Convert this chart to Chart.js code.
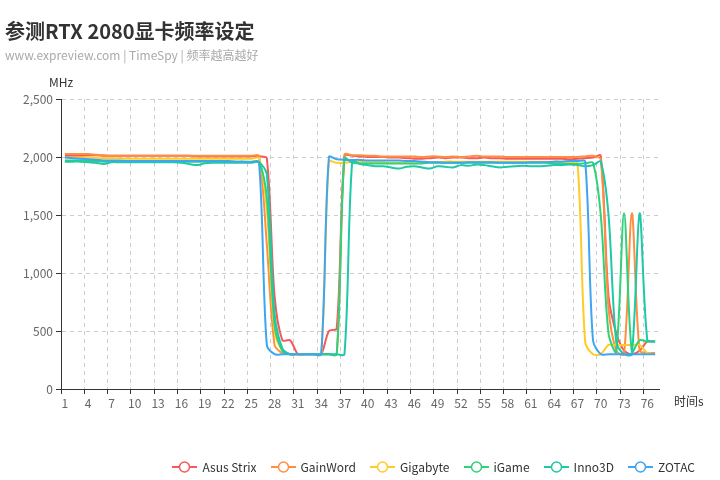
<!DOCTYPE html>
<html>
<head>
<meta charset="utf-8">
<script src="https://cdn.jsdelivr.net/npm/chart.js@4.4.1/dist/chart.umd.min.js"></script>
<style>
html, body { margin: 0; padding: 0; background: #fff; }
#wrap { position: relative; width: 720px; height: 480px; font-family: "Noto Sans CJK SC", "Noto Sans", sans-serif; }
#c { position: absolute; left: 0; top: 0; }
.title { position: absolute; left: 5px; top: 16px; font-size: 20px; font-weight: bold; color: #333; line-height: 30px; white-space: nowrap; }
.sub { position: absolute; left: 5px; top: 46px; font-size: 12px; color: #aaa; line-height: 18px; white-space: nowrap; }
#legend { position: absolute; right: 25px; top: 459px; display: flex; font-size: 12px; color: #333; line-height: 16px; }
.li { display: flex; align-items: center; margin-left: 14px; }
.li svg { margin-right: 5px; }
</style>
</head>
<body>
<div id="wrap">
    <canvas id="c" width="720" height="480"></canvas>
    <div class="title">参测RTX 2080显卡频率设定</div>
    <div class="sub">www.expreview.com | TimeSpy | 频率越高越好</div>
    <div id="legend"></div>
</div>
<script>
/* ── Data (MHz per second) ── */
const seconds = [
    '1','2','3','4','5','6','7','8','9','10','11','12','13','14','15','16','17','18','19','20',
    '21','22','23','24','25','26','27','28','29','30','31','32','33','34','35','36','37','38','39','40',
    '41','42','43','44','45','46','47','48','49','50','51','52','53','54','55','56','57','58','59','60',
    '61','62','63','64','65','66','67','68','69','70','71','72','73','74','75','76','77'
];

const asusStrix = [
    2010,2010,2010,2015,2015,2010,2010,2010,2010,2010,
    2010,2010,2010,2010,2010,2010,2010,2005,2005,2005,
    2005,2005,2005,2005,2005,2005,1990,800,420,420,
    300,300,300,300,500,520,2010,2010,2005,2000,
    2000,2000,1995,1995,1990,1985,1985,1990,1995,1990,
    1995,1995,1990,1990,1995,1990,1990,1985,1985,1985,
    1985,1985,1985,1985,1985,1980,1985,1990,1995,2010,
    800,480,330,300,330,410,410
];
const gainWord = [
    2025,2025,2025,2025,2020,2015,2010,2010,2010,2010,
    2010,2010,2010,2010,2010,2010,2010,2010,2010,2010,
    2010,2010,2010,2010,2010,2010,1250,380,310,300,
    300,300,300,300,300,300,2020,2015,2015,2010,
    2010,2005,2005,2005,2005,2005,2000,2005,2005,2000,
    2005,2000,2005,2010,2005,2005,2005,2000,2000,2000,
    2000,2000,2000,2000,2000,2000,2000,2005,2010,1980,
    700,330,300,1515,330,310,310
];
const gigabyte = [
    1995,1995,1995,1995,1990,1990,1990,1990,1985,1985,
    1985,1985,1985,1985,1985,1985,1985,1985,1985,1985,
    1985,1985,1985,1985,1985,1990,1550,500,330,300,
    300,300,300,300,1960,1950,1950,1960,1960,1955,
    1955,1955,1950,1950,1950,1945,1950,1955,1955,1960,
    1960,1960,1960,1960,1960,1960,1960,1960,1960,1960,
    1960,1960,1960,1960,1960,1955,1950,400,300,300,
    380,380,380,380,380,310,300
];
const iGame = [
    1970,1970,1970,1965,1965,1960,1960,1960,1960,1960,
    1960,1960,1960,1960,1960,1960,1960,1960,1960,1960,
    1960,1960,1960,1960,1960,1960,1650,550,330,300,
    300,300,300,300,300,300,1990,1950,1945,1945,
    1945,1945,1945,1945,1945,1945,1945,1950,1950,1950,
    1950,1950,1950,1950,1950,1950,1950,1950,1950,1950,
    1950,1950,1950,1945,1940,1940,1940,1945,1950,1500,
    480,320,1515,320,420,410,410
];
const inno3D = [
    1960,1960,1960,1955,1950,1940,1955,1955,1955,1955,
    1955,1955,1955,1955,1955,1950,1940,1930,1945,1950,
    1950,1950,1950,1950,1950,1955,1850,650,350,300,
    300,300,300,300,300,300,300,1960,1940,1930,
    1920,1920,1910,1900,1915,1920,1910,1900,1920,1915,
    1910,1930,1925,1935,1930,1920,1910,1915,1920,1925,
    1920,1920,1925,1930,1930,1935,1930,1920,1930,1960,
    1500,400,300,300,1515,420,410
];
const zotac = [
    1995,1990,1985,1980,1975,1970,1970,1970,1965,1965,
    1965,1965,1965,1965,1965,1965,1965,1965,1965,1965,
    1965,1965,1960,1960,1955,1950,380,300,300,300,
    300,300,300,300,2000,1980,1975,1975,1975,1970,
    1970,1970,1970,1970,1965,1965,1960,1955,1955,1950,
    1950,1950,1955,1955,1955,1955,1950,1950,1950,1950,
    1955,1955,1955,1960,1960,1965,1965,1960,420,300,
    300,300,300,300,300,300,300
];

const seriesNames  = ['Asus Strix', 'GainWord', 'Gigabyte', 'iGame', 'Inno3D', 'ZOTAC'];
const seriesValues = [asusStrix, gainWord, gigabyte, iGame, inno3D, zotac];
const seriesColors = ['#f5595c', '#ff8f40', '#ffcc26', '#2fd17a', '#1ec9a6', '#3ea6f0'];

const yTicks = [0, 500, 1000, 1500, 2000, 2500];

const gridColor = '#cccccc';
const axisColor = '#333333';
const tickColor = '#666666';
const FONT = '"Noto Sans CJK SC", "Noto Sans", sans-serif';

/* ── Legend (ECharts-style line + hollow circle icon) ── */
document.getElementById('legend').innerHTML = seriesNames.map((n, i) => `
    <span class="li">
        <svg width="25" height="14"><line x1="0" y1="7" x2="25" y2="7" stroke="${seriesColors[i]}" stroke-width="2"/>
        <circle cx="12.5" cy="7" r="5" fill="#fff" stroke="${seriesColors[i]}" stroke-width="1.5"/></svg>
        <span>${n}</span>
    </span>`).join('');

/* ── Axis names ── */
const axisNames = {
    id: 'axisNames',
    afterDraw(chart) {
        const { ctx, chartArea } = chart;
        ctx.save();
        ctx.font = '12px ' + FONT;
        ctx.fillStyle = axisColor;
        ctx.textBaseline = 'middle';
        ctx.textAlign = 'center';
        ctx.fillText('MHz', chartArea.left, chartArea.top - 17);
        ctx.textAlign = 'left';
        ctx.fillText('时间s', chartArea.right + 15, chartArea.bottom + 12);
        ctx.restore();
    }
};

const everyThird = (c, col) => (c.index % 3 === 0 ? col : 'rgba(0,0,0,0)');

new Chart(document.getElementById('c'), {
    type: 'line',
    data: {
        labels: seconds,
        datasets: seriesNames.map((n, i) => ({
            label: n,
            data: seriesValues[i],
            borderColor: seriesColors[i],
            backgroundColor: seriesColors[i],
            borderWidth: 2,
            pointRadius: 0,
            tension: 0.3,
            order: seriesNames.length - i
        }))
    },
    options: {
        responsive: false,
        animation: false,
        layout: { padding: { left: 0, right: 61, top: 99, bottom: 61 } },
        plugins: { legend: { display: false }, tooltip: { enabled: false } },
        scales: {
            x: {
                offset: true,
                afterFit: s => { s.height = 30; },
                grid: {
                    offset: true,
                    color: c => everyThird(c, gridColor),
                    tickColor: c => everyThird(c, axisColor),
                    tickLength: 5
                },
                border: { color: axisColor, width: 1, dash: [4, 4] },
                ticks: {
                    autoSkip: false,
                    maxRotation: 0,
                    padding: 2,
                    color: tickColor,
                    font: { size: 12, family: FONT },
                    callback: (v, i) => (i % 3 === 0 ? seconds[i] : '')
                }
            },
            y: {
                min: 0,
                max: 2500,
                afterFit: s => { s.width = 61; },
                afterBuildTicks: s => { s.ticks = yTicks.map(v => ({ value: v })); },
                grid: { color: gridColor, tickColor: axisColor, tickLength: 5 },
                border: { color: axisColor, width: 1, dash: [4, 4] },
                ticks: {
                    padding: 3,
                    color: tickColor,
                    font: { size: 12, family: FONT },
                    callback: v => v.toLocaleString('en-US')
                }
            }
        }
    },
    plugins: [axisNames]
});
</script>
</body>
</html>
